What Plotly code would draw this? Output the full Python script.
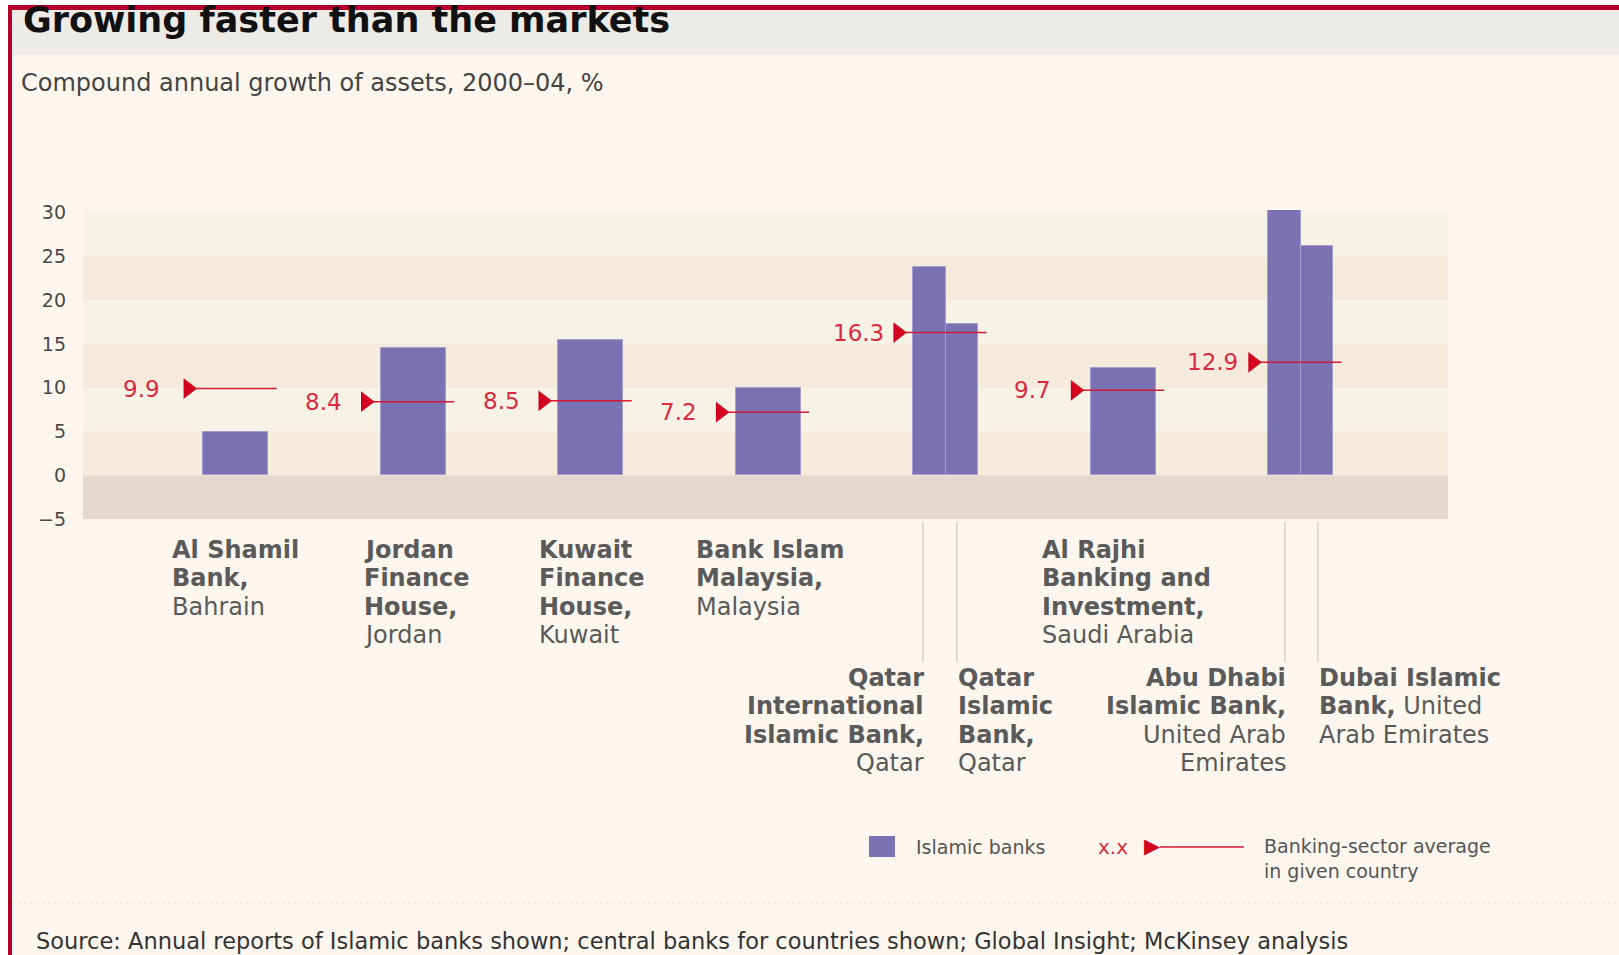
import plotly.graph_objects as go

# ---------------- data ----------------
banks = ["Al Shamil Bank", "Jordan Finance House", "Kuwait Finance House",
         "Bank Islam Malaysia", "Qatar International Islamic Bank",
         "Qatar Islamic Bank", "Al Rajhi Banking and Investment",
         "Abu Dhabi Islamic Bank", "Dubai Islamic Bank"]
bank_country = ["Bahrain", "Jordan", "Kuwait", "Malaysia", "Qatar", "Qatar",
                "Saudi Arabia", "United Arab Emirates", "United Arab Emirates"]
bank_growth = [4.9, 14.5, 15.4, 10.0, 23.8, 17.3, 12.2, 30.3, 26.2]

countries = ["Bahrain", "Jordan", "Kuwait", "Malaysia", "Qatar",
             "Saudi Arabia", "United Arab Emirates"]
sector_avg = [9.9, 8.4, 8.5, 7.2, 16.3, 9.7, 12.9]

tick_vals = [-5, 0, 5, 10, 15, 20, 25, 30]
tick_text = ["\u22125", "0", "5", "10", "15", "20", "25", "30"]

label_text = [
    "<b>Al Shamil</b><br><b>Bank,</b><br>Bahrain",
    "<b>Jordan</b><br><b>Finance</b><br><b>House,</b><br>Jordan",
    "<b>Kuwait</b><br><b>Finance</b><br><b>House,</b><br>Kuwait",
    "<b>Bank Islam</b><br><b>Malaysia,</b><br>Malaysia",
    "<b>Qatar</b><br><b>International</b><br><b>Islamic Bank,</b><br>Qatar",
    "<b>Qatar</b><br><b>Islamic</b><br><b>Bank,</b><br>Qatar",
    "<b>Al Rajhi</b><br><b>Banking and</b><br><b>Investment,</b><br>Saudi Arabia",
    "<b>Abu Dhabi</b><br><b>Islamic Bank,</b><br>United Arab<br>Emirates",
    "<b>Dubai Islamic</b><br><b>Bank,</b> United<br>Arab Emirates",
]

title = "Growing faster than the markets"
subtitle = "Compound annual growth of assets, 2000\u201304, %"
source = ("Source: Annual reports of Islamic banks shown; central banks for countries shown; "
          "Global Insight; McKinsey analysis")

# ---------------- layout constants ----------------
W, H = 1619, 955
L, R, T, B = 83, 171, 210, 436
XR = [-0.862, 6.83]
YR = [-5, 30.3]
GROUP_W = 0.366

FONT = "DejaVu Sans"
BAR_COLOR = "#7b72b4"
RED = "#d4001f"
RED_TXT = "#da2a40"
PAGE_BG = "#fcf6ef"
LINE_STEP = 28.4


def pxx(xp):
    return (xp - L) / (W - L - R)


def pyy(yp):
    return (H - B - yp) / (H - T - B)


# bar positions derived from groups
bar_x, bar_w = [], []
for i, c in enumerate(bank_country):
    g = countries.index(c)
    members = [j for j, cc in enumerate(bank_country) if cc == c]
    n = len(members)
    k = members.index(i)
    w = GROUP_W / n
    bar_x.append(g - GROUP_W / 2 + w * (k + 0.5))
    bar_w.append(w)

# label layout: (offset from bar centre, row, anchor)
label_layout = [(-0.366, 0, "left"), (-0.285, 0, "left"), (-0.299, 0, "left"),
                (-0.414, 0, "left"), (-0.038, 1, "right"), (-0.030, 1, "left"),
                (-0.465, 0, "left"), (0.002, 1, "right"), (0.005, 1, "left")]
ROW_FIRST_CENTER = [550, 678]
# pixel gap between each average label and its triangle
avg_label_gap = [26, 22, 21, 21, 12, 22, 13]

fig = go.Figure()

fig.add_trace(go.Bar(
    x=bar_x, y=bank_growth, width=bar_w,
    marker=dict(color=BAR_COLOR, line=dict(color="#a49ecd", width=1)),
    hoverinfo="skip", showlegend=False,
))

# sector averages: line + triangle
TRI_OFF, LINE_END = -0.27, 0.23
for g, v in enumerate(sector_avg):
    fig.add_trace(go.Scatter(
        x=[g + TRI_OFF, g + LINE_END], y=[v, v], mode="lines",
        line=dict(color="#d31a35", width=1.5), hoverinfo="skip", showlegend=False,
    ))
fig.add_trace(go.Scatter(
    x=[g + TRI_OFF for g in range(len(sector_avg))], y=sector_avg, mode="markers",
    marker=dict(symbol="triangle-right", size=18, color=RED),
    hoverinfo="skip", showlegend=False, cliponaxis=False,
))

ann = []
for g, v in enumerate(sector_avg):
    ann.append(dict(x=g + TRI_OFF, y=v, xref="x", yref="y", text=f"{v:.1f}",
                    showarrow=False, xanchor="right", yanchor="middle",
                    xshift=-avg_label_gap[g],
                    font=dict(family=FONT, size=23, color=RED_TXT)))

shapes = []
# bands
shapes.append(dict(type="rect", xref="paper", yref="y", x0=0, x1=1, y0=-5, y1=0,
                   fillcolor="#e7d8ce", line=dict(width=0), layer="below"))
for lo in (0, 10, 20):
    shapes.append(dict(type="rect", xref="paper", yref="y", x0=0, x1=1, y0=lo, y1=lo + 5,
                       fillcolor="#f6eadc", line=dict(width=0), layer="below"))

# category labels (one annotation per line for exact spacing) + leader lines
for i, txt in enumerate(label_text):
    dx, row, anchor = label_layout[i]
    xa = bar_x[i] + dx
    for k, line in enumerate(txt.split("<br>")):
        center = ROW_FIRST_CENTER[row] + k * LINE_STEP
        ann.append(dict(x=xa, y=-5, xref="x", yref="y", text=line, showarrow=False,
                        xanchor=anchor, yanchor="middle", align=anchor,
                        yshift=-(center - (H - B)),
                        xshift=3 if anchor == "right" else -1,
                        font=dict(family=FONT, size=24, color="#5a5a5a")))
    if row == 1:
        shapes.append(dict(type="line", xref="x", yref="paper", x0=xa, x1=xa,
                           y0=pyy(522), y1=pyy(662),
                           line=dict(color="#d8d2cb", width=1.5)))

# page decoration
shapes += [
    dict(type="rect", xref="paper", yref="paper", x0=pxx(11), x1=pxx(W), y0=pyy(10), y1=pyy(55),
         fillcolor="#edebe6", line=dict(width=0), layer="below"),
    dict(type="rect", xref="paper", yref="paper", x0=pxx(0), x1=pxx(8), y0=pyy(0), y1=pyy(H),
         fillcolor="#ffffff", line=dict(width=0), layer="below"),
    dict(type="rect", xref="paper", yref="paper", x0=pxx(0), x1=pxx(W), y0=pyy(0), y1=pyy(5),
         fillcolor="#ffffff", line=dict(width=0), layer="below"),
    dict(type="rect", xref="paper", yref="paper", x0=pxx(8), x1=pxx(12), y0=pyy(5), y1=pyy(H),
         fillcolor="#b5002c", line=dict(width=0), layer="above"),
    dict(type="rect", xref="paper", yref="paper", x0=pxx(8), x1=pxx(W), y0=pyy(5), y1=pyy(10),
         fillcolor="#b5002c", line=dict(width=0), layer="above"),
    dict(type="line", xref="paper", yref="paper", x0=pxx(12), x1=pxx(W), y0=pyy(903), y1=pyy(903),
         line=dict(color="#e8e0d6", width=1, dash="dot")),
]

# legend
shapes.append(dict(type="rect", xref="paper", yref="paper", x0=pxx(869), x1=pxx(895),
                   y0=pyy(836), y1=pyy(857), fillcolor=BAR_COLOR, line=dict(width=0)))
shapes.append(dict(type="line", xref="paper", yref="paper", x0=pxx(1160), x1=pxx(1244),
                   y0=pyy(847), y1=pyy(847), line=dict(color="#d31a35", width=1.5)))
ann += [
    dict(x=pxx(914), y=pyy(847), xref="paper", yref="paper", text="Islamic banks",
         showarrow=False, xanchor="left", yanchor="middle",
         font=dict(family=FONT, size=19, color="#555555")),
    dict(x=pxx(1096), y=pyy(847), xref="paper", yref="paper", text="x.x",
         showarrow=False, xanchor="left", yanchor="middle",
         font=dict(family=FONT, size=20, color=RED_TXT)),
    dict(x=pxx(1142), y=pyy(846), xref="paper", yref="paper", text="\u25B6",
         showarrow=False, xanchor="left", yanchor="middle",
         font=dict(family=FONT, size=21, color=RED)),
    dict(x=pxx(1262), y=pyy(833), xref="paper", yref="paper",
         text="Banking-sector average<br>in given country",
         showarrow=False, xanchor="left", yanchor="top", align="left",
         font=dict(family=FONT, size=19, color="#555555")),
    dict(x=pxx(21), y=pyy(20), xref="paper", yref="paper", text=f"<b>{title}</b>",
         showarrow=False, xanchor="left", yanchor="middle",
         font=dict(family=FONT, size=35, color="#111111")),
    dict(x=pxx(19), y=pyy(83), xref="paper", yref="paper", text=subtitle,
         showarrow=False, xanchor="left", yanchor="middle",
         font=dict(family=FONT, size=24, color="#444444")),
    dict(x=pxx(34), y=pyy(941), xref="paper", yref="paper", text=source,
         showarrow=False, xanchor="left", yanchor="middle",
         font=dict(family=FONT, size=22.5, color="#333333")),
]

fig.update_layout(
    width=W, height=H,
    margin=dict(l=L, r=R, t=T, b=B, pad=0),
    paper_bgcolor=PAGE_BG, plot_bgcolor="#f6f2e6",
    bargap=0, showlegend=False,
    xaxis=dict(range=XR, visible=False, fixedrange=True),
    yaxis=dict(range=YR, tickvals=tick_vals, ticktext=tick_text, showgrid=False,
               zeroline=False, showline=False, ticks="", ticklabelstandoff=16,
               tickfont=dict(family=FONT, size=19, color="#4a4a4a"), fixedrange=True),
    shapes=shapes, annotations=ann,
    font=dict(family=FONT),
)

fig.write_html(
    "out.html",
    config={"displayModeBar": False},
    post_script="document.body.style.margin='0';document.body.style.padding='0';"
                "document.body.style.overflow='hidden';"
                "document.documentElement.style.overflow='hidden';",
)
